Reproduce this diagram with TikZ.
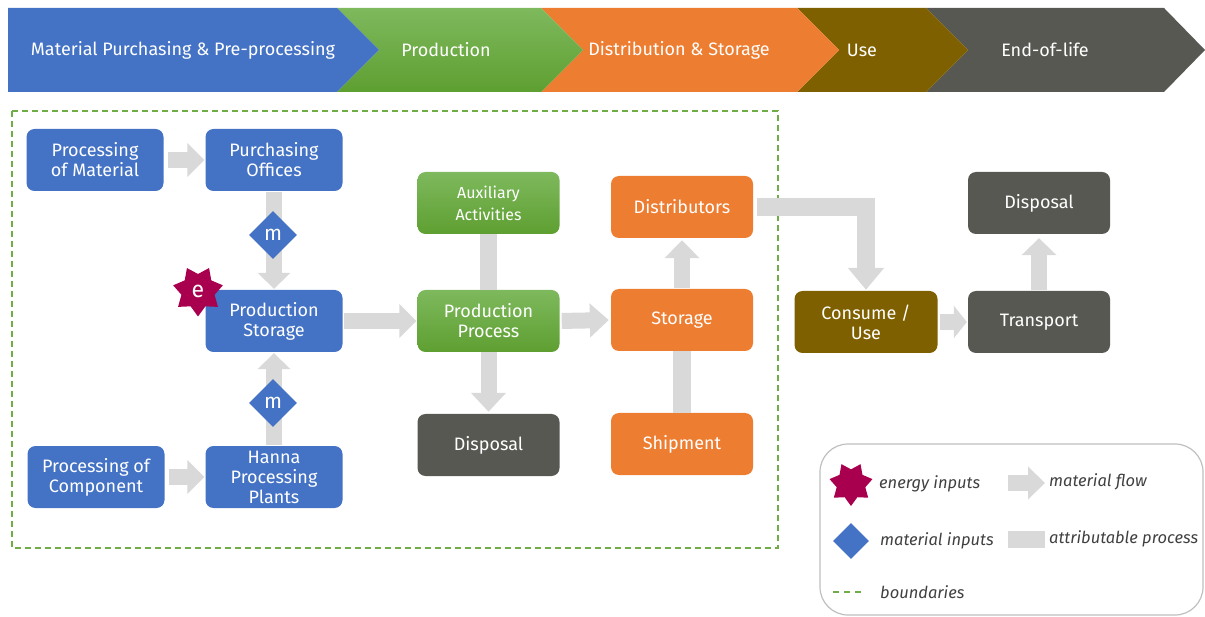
\documentclass[tikz,border=0pt]{standalone}
\usepackage{fontspec}
\setmainfont{Fira Sans}
\usetikzlibrary{shapes.geometric,arrows.meta}
\definecolor{cblue}{HTML}{4472C4}
\definecolor{cgreenT}{HTML}{7EB95D}
\definecolor{cgreenB}{HTML}{5E9F31}
\definecolor{corange}{HTML}{ED7D31}
\definecolor{cbrown}{HTML}{7F6000}
\definecolor{cgrey}{HTML}{575852}
\definecolor{cflow}{HTML}{D9D9D9}
\definecolor{cbound}{HTML}{70AD47}
\definecolor{cenergy}{HTML}{A8004F}
\definecolor{clegend}{HTML}{BFBFBF}
\definecolor{ctext}{HTML}{404040}
\begin{document}
\begin{tikzpicture}[x=1pt,y=-1pt,
  box/.style={rounded corners=8pt, minimum height=62pt, text=white, align=center, inner sep=2pt, font=\fontsize{18}{20}\selectfont},
  bluebox/.style={box, fill=cblue, minimum width=137pt},
  greenbox/.style={box, top color=cgreenT, bottom color=cgreenB, minimum width=142pt},
  orangebox/.style={box, fill=corange, minimum width=142pt},
  brownbox/.style={box, fill=cbrown, minimum width=143pt},
  greybox/.style={box, fill=cgrey, minimum width=142pt},
  headtext/.style={text=white, font=\fontsize{18}{20}\selectfont},
  flowarrow/.style={draw=cflow, line width=16pt, -{Triangle[width=33pt,length=17pt]}},
  flowbar/.style={draw=cflow, line width=17pt},
  minput/.style={shape=diamond, fill=cblue, inner sep=0pt, minimum width=48pt, minimum height=48pt, text=white, font=\fontsize{21}{21}\selectfont},
  einput/.style={shape=star, star points=7, star point ratio=1.5, fill=cenergy, inner sep=0pt, minimum size=51pt, text=white, font=\fontsize{23}{23}\selectfont},
  legtext/.style={anchor=west, text=ctext, font=\fontsize{16.5}{19}\itshape, inner sep=0pt}
]
\useasboundingbox (0,0) rectangle (1205,617);

% header chevrons
\fill[cgrey] (926,8) -- (1164,8) -- (1205,50) -- (1164,92) -- (926,92) -- (968,50) -- cycle;
\fill[cbrown] (797,8) -- (926,8) -- (968,50) -- (926,92) -- (797,92) -- (839,50) -- cycle;
\fill[corange] (541,8) -- (797,8) -- (839,50) -- (797,92) -- (541,92) -- (583,50) -- cycle;
\shade[top color=cgreenT, bottom color=cgreenB] (337,8) -- (541,8) -- (583,50) -- (541,92) -- (337,92) -- (379,50) -- cycle;
\fill[cblue] (8,8) -- (337,8) -- (379,50) -- (337,92) -- (8,92) -- cycle;
\node[headtext] (h1) at (183,50) {Material Purchasing \& Pre-processing};
\node[headtext] (h2) at (446,50) {Production};
\node[headtext] (h3) at (679,50) {Distribution \& Storage};
\node[headtext] (h4) at (862,50) {Use};
\node[headtext] (h5) at (1045,50) {End-of-life};

% boundary
\draw[cbound, line width=1.2pt, dash pattern=on 6pt off 4pt] (12,111) rectangle (778,548);

% boxes
\node[bluebox] (pm) at (95,160) {Processing\\of Material};
\node[bluebox] (po) at (274,160) {Purchasing\\Offices};
\node[bluebox] (ps) at (274,321) {Production\\Storage};
\node[bluebox] (pc) at (96,477) {Processing of\\Component};
\node[bluebox] (hp) at (274,477) {Hanna\\Processing\\Plants};
\node[greenbox, font=\fontsize{16}{22}\selectfont] (aux) at (488.5,203) {Auxiliary\\Activities};
\node[greenbox] (pp) at (488.5,321) {Production\\Process};
\node[greybox] (d1) at (488.5,445) {Disposal};
\node[orangebox] (dist) at (682,207) {Distributors};
\node[orangebox] (stor) at (682,320) {Storage};
\node[orangebox] (ship) at (682,444) {Shipment};
\node[brownbox] (cons) at (866,322) {Consume /\\Use};
\node[greybox] (tr) at (1039,322) {Transport};
\node[greybox] (d2) at (1039,203) {Disposal};

% flows
\draw[flowarrow, shorten <=4pt, shorten >=1pt] (pm.east) -- (po.west);
\draw[flowarrow, -{Triangle[width=32pt,length=16pt]}, shorten <=1pt, shorten >=1pt] (po.south) -- (ps.north);
\draw[flowarrow, -{Triangle[width=32pt,length=16pt]}, shorten <=1pt, shorten >=1pt] (hp.north) -- (ps.south);
\draw[flowarrow, shorten <=4pt, shorten >=1pt] (pc.east) -- (hp.west);
\draw[flowarrow, shorten <=1pt, shorten >=1pt] (ps.east) -- (pp.west);
\draw[flowbar] (aux.south) -- (pp.north);
\draw[flowarrow, -{Triangle[width=34pt,length=19pt]}, shorten <=0pt, shorten >=2pt] (pp.south) -- (d1.north);
\draw[flowarrow, -{Triangle[width=33pt,length=19pt]}, shorten <=2pt, shorten >=2pt] (pp.east) -- (stor.west);
\draw[flowbar, line width=18pt] (ship.north) -- (stor.south);
\draw[flowarrow, -{Triangle[width=34pt,length=18pt]}, shorten <=1pt, shorten >=2pt] (stor.north) -- (dist.south);
\draw[flowarrow, line width=18pt, line join=miter, -{Triangle[width=35pt,length=22pt]}, shorten <=4pt, shorten >=1pt] (dist.east) -| (cons.north);
\draw[flowarrow, -{Triangle[width=32pt,length=13pt]}, shorten <=2pt, shorten >=1pt] (cons.east) -- (tr.west);
\draw[flowarrow, -{Triangle[width=34pt,length=17pt]}, shorten <=1pt, shorten >=4pt] (tr.north) -- (d2.south);

% inputs
\node[minput] (m1) at (273,235) {m};
\node[minput] (m2) at (273,403) {m};
\node[einput, shape border rotate=180] (e1) at (198,291) {e};

% legend
\draw[clegend, line width=1.2pt, rounded corners=28pt] (820,444) rectangle (1203,615);
\node[einput, shape border rotate=180, minimum size=44pt] (le) at (851,484) {};
\node[legtext] (lte) at (879,484) {energy inputs};
\coordinate (lf1) at (1008,483);
\coordinate (lf2) at (1045,483);
\draw[flowarrow, -{Triangle[width=32pt,length=17pt]}] (lf1) -- (lf2);
\node[legtext] (ltf) at (1049,482) {material flow};
\node[minput, minimum width=36pt, minimum height=36pt] (lm) at (851,541) {};
\node[legtext] (ltm) at (880,541) {material inputs};
\node[fill=cflow, minimum width=37pt, minimum height=17pt, inner sep=0pt] (la) at (1026.5,539.5) {};
\node[legtext] (lta) at (1049,539) {attributable process};
\coordinate (lb1) at (833,592);
\coordinate (lb2) at (862,592);
\draw[cbound, line width=1.2pt, dash pattern=on 6pt off 5pt] (lb1) -- (lb2);
\node[legtext] (ltb) at (880,592) {boundaries};
\end{tikzpicture}
\end{document}
